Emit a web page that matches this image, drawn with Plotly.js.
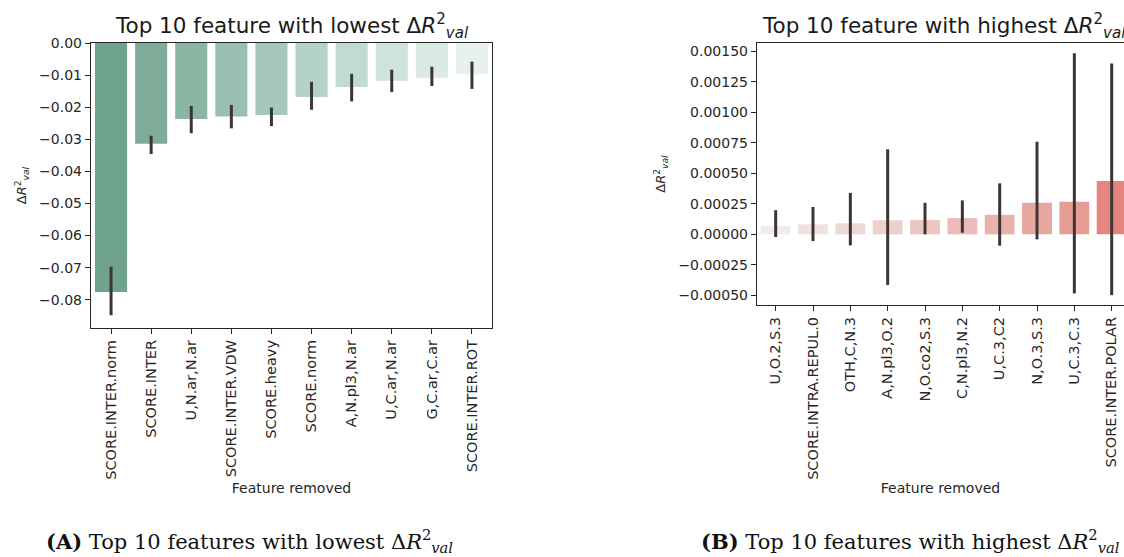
<!DOCTYPE html>
<html>
<head>
<meta charset="utf-8">
<script src="https://cdn.plot.ly/plotly-3.0.1.min.js"></script>
<style>
html,body{margin:0;padding:0;background:#fff;overflow:hidden;}
#chart{width:1124px;height:557px;}
</style>
</head>
<body>
<div id="chart"></div>
<script>
// ---- Panel A: lowest ΔR²_val ----
const lowFeatures = ["SCORE.INTER.norm","SCORE.INTER","U,N.ar,N.ar","SCORE.INTER.VDW","SCORE.heavy","SCORE.norm","A,N.pl3,N.ar","U,C.ar,N.ar","G,C.ar,C.ar","SCORE.INTER.ROT"];
const lowMean  = [-0.0776,-0.0314,-0.0237,-0.0229,-0.0224,-0.0168,-0.0137,-0.0118,-0.0108,-0.0097];
const lowUpper = [-0.0697,-0.0289,-0.0196,-0.0193,-0.0201,-0.0121,-0.0096,-0.0083,-0.0074,-0.0058];
const lowLower = [-0.0848,-0.0346,-0.0281,-0.0266,-0.0259,-0.0208,-0.0182,-0.0153,-0.0134,-0.0143];
const lowColors = ["#6fa38e","#7eac99","#8bb6a4","#98bfaf","#a6c8ba","#b4d2c5","#c2dbd0","#cfe3da","#dbe9e3","#e8f1ed"];
const lowTicks = [0,-0.01,-0.02,-0.03,-0.04,-0.05,-0.06,-0.07,-0.08];

// ---- Panel B: highest ΔR²_val ----
const highFeatures = ["U,O.2,S.3","SCORE.INTRA.REPUL.0","OTH,C,N.3","A,N.pl3,O.2","N,O.co2,S.3","C,N.pl3,N.2","U,C.3,C2","N,O.3,S.3","U,C.3,C.3","SCORE.INTER.POLAR"];
const highMean  = [0.000068,0.000082,0.000090,0.000115,0.000117,0.000133,0.000160,0.000259,0.000267,0.000438];
const highUpper = [0.000198,0.000224,0.000340,0.000697,0.000259,0.000278,0.000418,0.000759,0.001484,0.001400];
const highLower = [-0.000022,-0.000055,-0.000090,-0.000415,0.000000,0.000013,-0.000093,-0.000041,-0.000484,-0.000498];
const highColors = ["#f0ecec","#efe2e0","#eed8d5","#edcfcb","#ecc6c1","#eabcb7","#e9b2ad","#e7a7a1","#e69d96","#e5857f"];
const highTicks = [0.0015,0.00125,0.001,0.00075,0.0005,0.00025,0,-0.00025,-0.0005];

const W = 1124, H = 557;
const px = v => v / W;
const py = v => 1 - v / H;

const errColor = "#3d3535";
const tickFont = {family: "DejaVu Sans", size: 14, color: "#262626"};
const xTickFont = {family: "DejaVu Sans", size: 14.5, color: "#262626"};
const lineColor = "#262626";

const traceA = {
  type: "bar", x: lowFeatures, y: lowMean, xaxis: "x", yaxis: "y",
  marker: {color: lowColors, line: {width: 0}},
  error_y: {type: "data", symmetric: false,
    array: lowUpper.map((u, i) => u - lowMean[i]),
    arrayminus: lowMean.map((m, i) => m - lowLower[i]),
    color: errColor, thickness: 3, width: 0},
  hoverinfo: "x+y", showlegend: false
};
const traceB = {
  type: "bar", x: highFeatures, y: highMean, xaxis: "x2", yaxis: "y2",
  marker: {color: highColors, line: {width: 0}},
  error_y: {type: "data", symmetric: false,
    array: highUpper.map((u, i) => u - highMean[i]),
    arrayminus: highMean.map((m, i) => m - highLower[i]),
    color: errColor, thickness: 3, width: 0},
  hoverinfo: "x+y", showlegend: false
};

const yTitle = "Δ<i>R</i><sup>2</sup><sub><i>val</i></sub>";

const layout = {
  width: W, height: H,
  margin: {l: 0, r: 0, t: 0, b: 0},
  paper_bgcolor: "#fff", plot_bgcolor: "#fff",
  bargap: 0.2,
  font: {family: "DejaVu Sans", color: "#262626"},
  xaxis: {
    domain: [px(91), px(492)], anchor: "y", range: [-0.5, 9.5],
    showline: true, mirror: true, linecolor: lineColor, linewidth: 1.2,
    ticks: "outside", ticklen: 5, tickcolor: lineColor, tickangle: -90,
    tickfont: xTickFont, showgrid: false, zeroline: false,
    title: {text: "Feature removed", font: {family: "DejaVu Sans", size: 14, color: "#262626"}, standoff: 4}
  },
  yaxis: {
    domain: [py(328), py(43)], anchor: "x", range: [-0.0888, 0],
    showline: true, mirror: true, linecolor: lineColor, linewidth: 1.2,
    ticks: "outside", ticklen: 5, tickcolor: lineColor,
    tickvals: lowTicks, tickformat: ".2f", tickfont: tickFont,
    showgrid: false, zeroline: false,
    title: {text: yTitle, font: {family: "DejaVu Sans", size: 13, color: "#262626"}, standoff: 9}
  },
  xaxis2: {
    domain: [px(757), 1], anchor: "y2", range: [-0.5, 9.33],
    showline: true, mirror: true, linecolor: lineColor, linewidth: 1.2,
    ticks: "outside", ticklen: 5, tickcolor: lineColor, tickangle: -90,
    tickfont: xTickFont, showgrid: false, zeroline: false,
    title: {text: "Feature removed", font: {family: "DejaVu Sans", size: 14, color: "#262626"}, standoff: 4}
  },
  yaxis2: {
    domain: [py(305), py(43)], anchor: "x2", range: [-0.000579, 0.001568],
    showline: true, mirror: false, linecolor: lineColor, linewidth: 1.2,
    ticks: "outside", ticklen: 5, tickcolor: lineColor,
    tickvals: highTicks, tickformat: ".5f", tickfont: tickFont,
    showgrid: false, zeroline: false,
    title: {text: yTitle, font: {family: "DejaVu Sans", size: 13, color: "#262626"}, standoff: 9}
  },
  annotations: [
    {xref: "paper", yref: "paper", x: px(291.5), y: py(26), xanchor: "center", yanchor: "middle",
     showarrow: false, text: "Top 10 feature with lowest " + yTitle,
     font: {family: "DejaVu Sans", size: 21.5, color: "#1a1a1a"}},
    {xref: "paper", yref: "paper", x: px(944), y: py(26), xanchor: "center", yanchor: "middle",
     showarrow: false, text: "Top 10 feature with highest " + yTitle,
     font: {family: "DejaVu Sans", size: 21.5, color: "#1a1a1a"}},
    {xref: "paper", yref: "paper", x: px(249), y: py(541), xanchor: "center", yanchor: "middle",
     showarrow: false, text: "<b>(A)</b> Top 10 features with lowest " + yTitle,
     font: {family: "DejaVu Serif", size: 21, color: "#111"}},
    {xref: "paper", yref: "paper", x: px(910), y: py(541), xanchor: "center", yanchor: "middle",
     showarrow: false, text: "<b>(B)</b> Top 10 features with highest " + yTitle,
     font: {family: "DejaVu Serif", size: 21, color: "#111"}}
  ]
};

Plotly.newPlot("chart", [traceA, traceB], layout, {displayModeBar: false, staticPlot: true});
</script>
</body>
</html>
